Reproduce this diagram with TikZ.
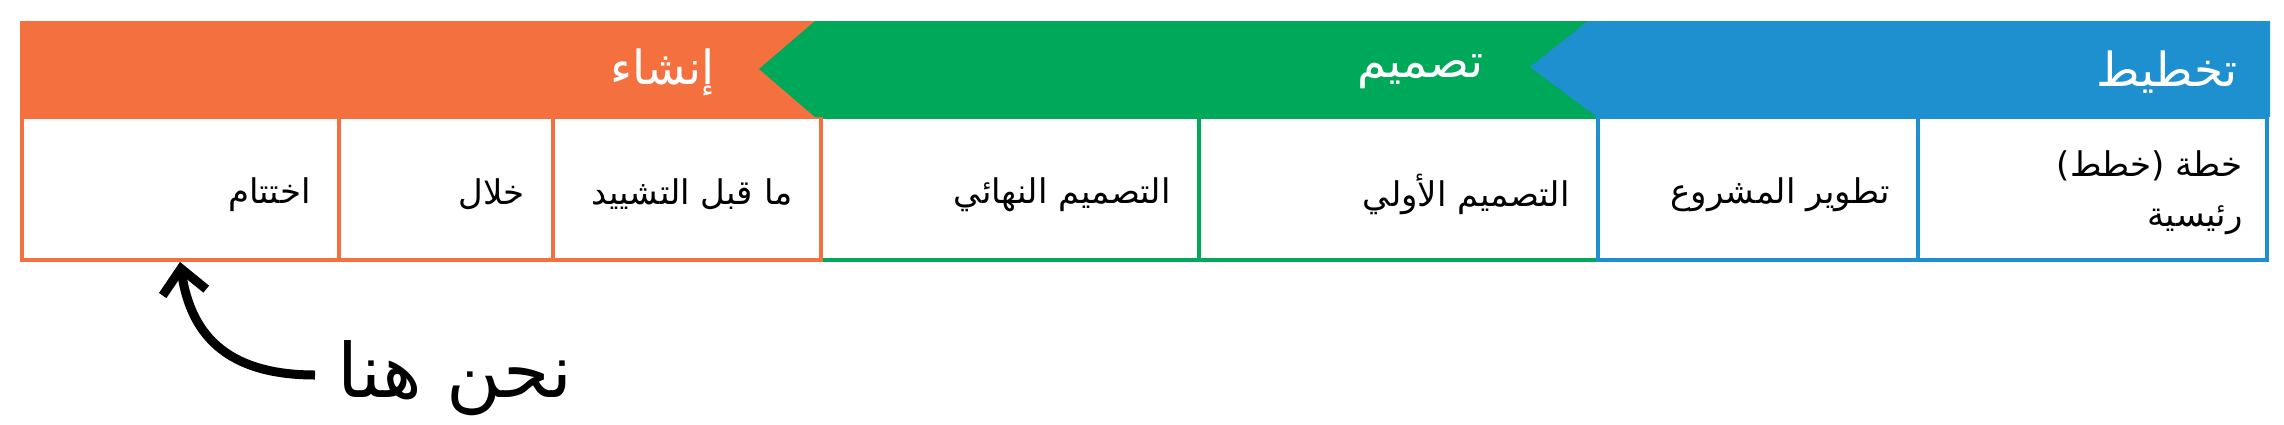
\documentclass[tikz,border=0pt]{standalone}
\usepackage{fontspec}
\newfontfamily\arabicfont[Script=Arabic]{DejaVu Sans}
\TeXXeTstate=1
\usetikzlibrary{arrows.meta}
\definecolor{ora}{HTML}{F4703E}
\definecolor{grn}{HTML}{00A859}
\definecolor{blu}{HTML}{1E90CF}
\tikzset{
  cellbox/.style={draw=#1, line width=2pt, minimum height=71.5pt, inner sep=0pt},
  celltext/.style={anchor=east, inner sep=0pt, align=right, text=black,
    font=\arabicfont\fontsize{17}{25}\selectfont},
  bandtitle/.style={text=white, font=\arabicfont\fontsize{23.5}{28}\selectfont, anchor=east, inner sep=0pt},
  heretext/.style={font=\arabicfont\fontsize{37.5}{44}\selectfont, anchor=base, inner sep=0pt},
  pointer/.style={line width=4.5pt, -{Straight Barb[length=12pt,width=22pt]}}
}
\begin{document}
\begin{tikzpicture}[x=0.5pt,y=-0.5pt]
\useasboundingbox (0,0) rectangle (2284,424);
% cells
\node[cellbox=grn, minimum width=189pt] (c4) at (1010,188.5) {};
\node[cellbox=grn, minimum width=199.5pt] (c5) at (1398.5,188.5) {};
\node[cellbox=ora, minimum width=158.5pt] (c1) at (180.5,188.5) {};
\node[cellbox=ora, minimum width=107pt] (c2) at (446,188.5) {};
\node[cellbox=ora, minimum width=134pt] (c3) at (687,188.5) {};
\node[cellbox=blu, minimum width=160pt] (c6) at (1758,188.5) {};
\node[cellbox=blu, minimum width=174.5pt] (c7) at (2092.5,188.5) {};
% cell texts
\node[celltext] (l1) at ([xshift=-15pt,yshift=-3pt]c1.east) {\beginR اختتام\endR};
\node[celltext] (l2) at ([xshift=-15pt,yshift=-3pt]c2.east) {\beginR خلال\endR};
\node[celltext] (l3) at ([xshift=-15pt,yshift=-3pt]c3.east) {\beginR ما قبل التشييد\endR};
\node[celltext] (l4) at ([xshift=-15pt,yshift=-3pt]c4.east) {\beginR التصميم النهائي\endR};
\node[celltext] (l5) at ([xshift=-15pt,yshift=-3pt]c5.east) {\beginR التصميم الأولي\endR};
\node[celltext] (l6) at ([xshift=-15pt,yshift=-3pt]c6.east) {\beginR تطوير المشروع\endR};
\node[celltext] (l7) at ([xshift=-13pt,yshift=-2pt]c7.east) {\beginR خطة (خطط)\endR\\\beginR رئيسية\endR};
% bands
\fill[ora] (20,21) rectangle (821,117);
\fill[grn] (815,21) -- (1598,21) -- (1598,117) -- (815,117) -- (759,69) -- cycle;
\fill[blu] (1588,21) -- (2270,21) -- (2270,117) -- (1597,117) -- (1530,67) -- cycle;
% titles
\node[bandtitle] (t1) at (715,72) {\beginR إنشاء\endR};
\node[bandtitle] (t2) at (1484,72) {\beginR تصميم\endR};
\node[bandtitle] (t3) at (2238,72) {\beginR تخطيط\endR};
% pointer
\node[heretext] (here) at (455,397) {\beginR نحن هنا\endR};
\coordinate (start) at (315,375);
\coordinate (tip) at (180,262);
\draw[pointer] (start) .. controls (222,375) and (190,330) .. (tip);
\end{tikzpicture}
\end{document}
